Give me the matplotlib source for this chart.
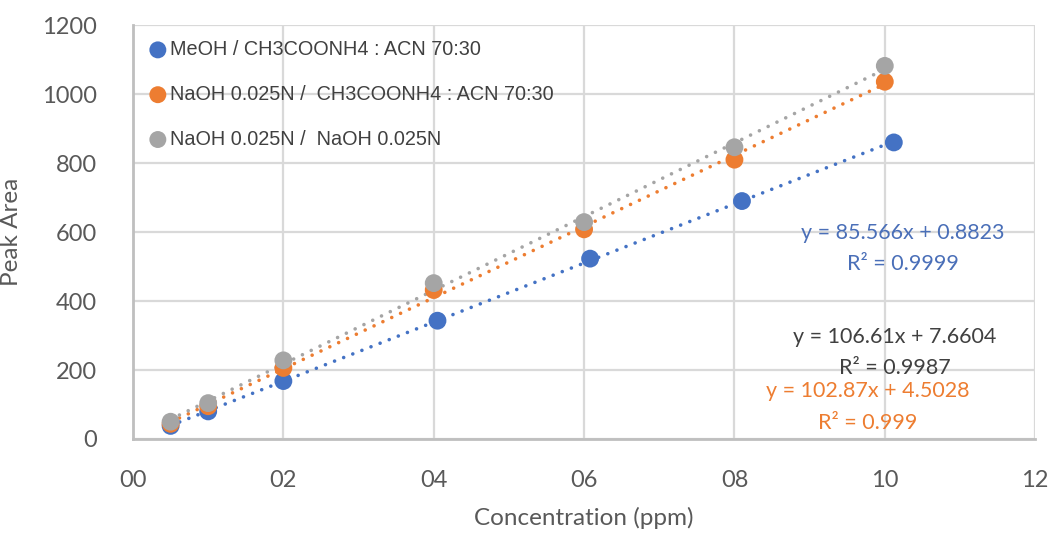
import numpy as np
import matplotlib
matplotlib.use("Agg")
import matplotlib.pyplot as plt

# data
x_blue = [0.5, 1.0, 2.0, 4.05, 6.08, 8.1, 10.12]
y_blue = [38, 80, 168, 343, 523, 690, 860]
x_orange = [0.5, 1.0, 2.0, 4.0, 6.0, 8.0, 10.0]
y_orange = [44, 95, 206, 432, 608, 810, 1036]
x_gray = [0.5, 1.0, 2.0, 4.0, 6.0, 8.0, 10.0]
y_gray = [50, 104, 228, 452, 629, 846, 1082]

labels = ["MeOH / CH3COONH4 : ACN 70:30",
          "NaOH 0.025N /  CH3COONH4 : ACN 70:30",
          "NaOH 0.025N /  NaOH 0.025N"]
equations = [("y = 85.566x + 0.8823", "R² = 0.9999"),
             ("y = 106.61x + 7.6604", "R² = 0.9987"),
             ("y = 102.87x + 4.5028", "R² = 0.999")]
xticks = [0, 2, 4, 6, 8, 10, 12]
xtick_labels = ["00", "02", "04", "06", "08", "10", "12"]
yticks = [0, 200, 400, 600, 800, 1000, 1200]

BLUE = "#4472C4"
ORANGE = "#ED7D31"
GRAY = "#A5A5A5"
TXT = "#595959"

fig = plt.figure(figsize=(10.49, 5.36), dpi=100)
ax = fig.add_axes([0.1268, 0.181, 0.86, 0.772])

series = [(x_blue, y_blue, BLUE), (x_orange, y_orange, ORANGE), (x_gray, y_gray, GRAY)]

# trendlines first (dotted), then markers
for xs, ys, c in series:
    k, b = np.polyfit(xs, ys, 1)
    xx = np.array([min(xs), max(xs)])
    ax.plot(xx, k * xx + b, color=c, lw=2.6, linestyle=(0, (0.01, 2.7)),
            dash_capstyle="round", zorder=2)
for (xs, ys, c), lab in zip(series, labels):
    ax.scatter(xs, ys, s=165, color=c, label=lab, zorder=3, edgecolors="none")

ax.set_xlim(0, 12)
ax.set_ylim(0, 1200)
ax.set_xticks(xticks)
ax.set_xticklabels(xtick_labels)
ax.set_yticks(yticks)
ax.grid(True, color="#D9D9D9", lw=1.6)
ax.set_axisbelow(True)
for s in ["top", "right"]:
    ax.spines[s].set_visible(False)
for s in ["left", "bottom"]:
    ax.spines[s].set_color("#BFBFBF")
    ax.spines[s].set_linewidth(2)
ax.tick_params(length=0, labelsize=17, labelcolor=TXT)
ax.tick_params(axis="x", pad=22)
ax.tick_params(axis="y", pad=26)
for t in ax.get_xticklabels() + ax.get_yticklabels():
    t.set_family("Lato")

ax.set_xlabel("Concentration (ppm)", fontsize=17.5, color=TXT, family="Lato", labelpad=12)
ax.set_ylabel("Peak Area", fontsize=17.5, color=TXT, family="Lato", labelpad=14)

leg = ax.legend(loc="upper left", frameon=False, prop={"family": "Liberation Sans", "size": 14.3},
                handletextpad=0.1, labelspacing=1.3, borderaxespad=0.35, handlelength=1.0,
                scatterpoints=1, markerscale=0.95)
for t in leg.get_texts():
    t.set_color("#404040")

eq_pos = [(10.24, 597, 507, "#4A6FB8"), (10.13, 295, 207, "#404040"), (9.77, 138, 46, ORANGE)]
for (l1, l2), (ex, y1, y2, c) in zip(equations, eq_pos):
    ax.text(ex, y1, l1, ha="center", va="center", fontsize=15.5, color=c, family="Lato")
    ax.text(ex, y2, l2, ha="center", va="center", fontsize=15.5, color=c, family="Lato")

fig.savefig("out.png", dpi=100)
